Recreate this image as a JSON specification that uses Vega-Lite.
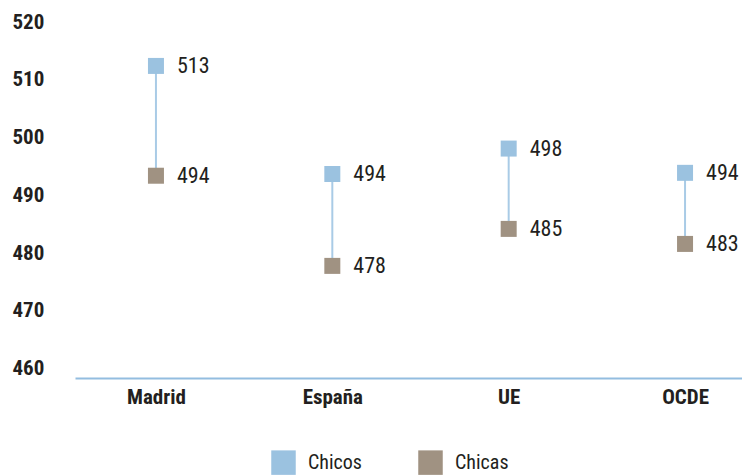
{
  "$schema": "https://vega.github.io/schema/vega-lite/v6.json",
  "width": 667,
  "height": 356,
  "autosize": "none",
  "padding": {"left": 75, "top": 22, "right": 0, "bottom": 98},
  "background": "white",
  "config": {
    "view": {"stroke": null},
    "font": "Liberation Sans Narrow, Roboto Condensed, Arial Narrow, sans-serif"
  },
  "data": {
    "values": [
      {"pais": "Madrid", "grupo": "Chicos", "valor": 512.4, "etiqueta": "513"},
      {"pais": "Madrid", "grupo": "Chicas", "valor": 493.4, "etiqueta": "494"},
      {"pais": "España", "grupo": "Chicos", "valor": 493.7, "etiqueta": "494"},
      {"pais": "España", "grupo": "Chicas", "valor": 477.8, "etiqueta": "478"},
      {"pais": "UE", "grupo": "Chicos", "valor": 498.1, "etiqueta": "498"},
      {"pais": "UE", "grupo": "Chicas", "valor": 484.2, "etiqueta": "485"},
      {"pais": "OCDE", "grupo": "Chicos", "valor": 493.9, "etiqueta": "494"},
      {"pais": "OCDE", "grupo": "Chicas", "valor": 481.6, "etiqueta": "483"}
    ]
  },
  "encoding": {
    "x": {
      "field": "pais",
      "type": "nominal",
      "sort": ["Madrid", "España", "UE", "OCDE"],
      "scale": {"type": "point", "padding": 0.391, "align": 0.587},
      "axis": {
        "title": null,
        "labelAngle": 0,
        "ticks": false,
        "domainColor": "#93bde0",
        "domainWidth": 2,
        "labelFontSize": 21,
        "labelFontWeight": "bold",
        "labelColor": "#231f20",
        "labelPadding": 8
      }
    }
  },
  "layer": [
    {
      "mark": {"type": "rule", "color": "#a9cbe6", "strokeWidth": 2},
      "encoding": {
        "y": {"aggregate": "min", "field": "valor", "type": "quantitative"},
        "y2": {"aggregate": "max", "field": "valor"}
      }
    },
    {
      "mark": {"type": "square", "size": 256, "opacity": 1, "filled": true},
      "encoding": {
        "y": {
          "field": "valor",
          "type": "quantitative",
          "scale": {"domain": [458.4, 520], "nice": false, "zero": false},
          "axis": {
            "title": null,
            "values": [460, 470, 480, 490, 500, 510, 520],
            "grid": false,
            "domain": false,
            "ticks": false,
            "labelAlign": "left",
            "labelPadding": 63,
            "labelFontSize": 21,
            "labelFontWeight": "bold",
            "labelColor": "#231f20"
          }
        },
        "color": {
          "field": "grupo",
          "type": "nominal",
          "scale": {"domain": ["Chicos", "Chicas"], "range": ["#9bc2e0", "#a09282"]},
          "legend": {
            "title": null,
            "orient": "none",
            "legendX": 196,
            "legendY": 428,
            "direction": "horizontal",
            "symbolType": "square",
            "symbolSize": 600,
            "symbolStrokeWidth": 0,
            "symbolOpacity": 1,
            "labelFontSize": 20,
            "labelColor": "#231f20",
            "labelOffset": 12,
            "columnPadding": 56
          }
        }
      }
    },
    {
      "mark": {"type": "text", "align": "left", "dx": 21, "fontSize": 22, "color": "#231f20", "baseline": "middle"},
      "encoding": {
        "y": {"field": "valor", "type": "quantitative"},
        "text": {"field": "etiqueta"}
      }
    }
  ]
}
